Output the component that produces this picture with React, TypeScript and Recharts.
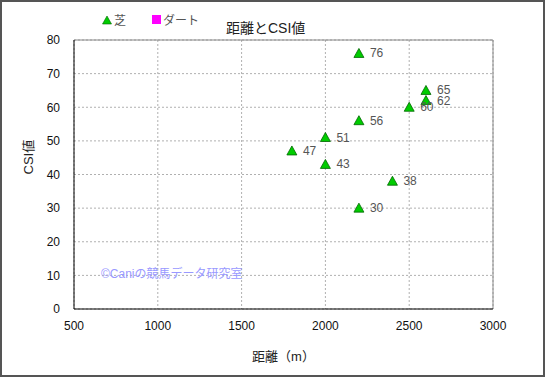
import { CartesianGrid, ReferenceLine, Scatter, ScatterChart, XAxis, YAxis } from 'recharts';

const turfDistance = [2200, 2600, 2600, 2500, 2200, 2000, 1800, 2000, 2400, 2200];
const turfCsi = [76, 65, 62, 60, 56, 51, 47, 43, 38, 30];
const dirtDistance: number[] = [];
const dirtCsi: number[] = [];
const xTicks = [500, 1000, 1500, 2000, 2500, 3000];
const yTicks = [0, 10, 20, 30, 40, 50, 60, 70, 80];

const turf = turfDistance.map((x, i) => ({ x, y: turfCsi[i] }));
const dirt = dirtDistance.map((x, i) => ({ x, y: dirtCsi[i] }));

const FONT = '"Liberation Sans", Arial, "Noto Sans CJK JP", sans-serif';

/** Green triangle marker with its CSI value written to the right. */
function Triangle(props: any) {
  const { cx, cy, payload } = props;
  if (cx == null || cy == null) return null;
  return (
    <g>
      <path
        d={`M${cx},${cy - 5} L${cx + 5},${cy + 4} L${cx - 5},${cy + 4} Z`}
        fill="#00cc00"
        stroke="#006600"
        strokeWidth={0.8}
      />
      <text x={cx + 11} y={cy + 4} fontSize={12} fill="#555" fontFamily={FONT}>
        {payload.y}
      </text>
    </g>
  );
}

function LegendBox() {
  return (
    <div style={{ position: 'absolute', left: 100, top: 9, display: 'flex', gap: 26, fontSize: 12, color: '#555', fontFamily: FONT }}>
      <span style={{ display: 'flex', alignItems: 'center' }}>
        <svg width={10} height={10}>
          <path d="M5,1 L9.5,9 L0.5,9 Z" fill="#00cc00" stroke="#006600" strokeWidth={0.6} />
        </svg>
        <span style={{ marginLeft: 2 }}>芝</span>
      </span>
      <span style={{ display: 'flex', alignItems: 'center' }}>
        <svg width={9} height={9}>
          <rect x={0} y={0} width={9} height={9} fill="#ff00ff" />
        </svg>
        <span style={{ marginLeft: 2 }}>ダート</span>
      </span>
    </div>
  );
}

export default function App() {
  return (
    <div
      style={{
        position: 'absolute',
        left: 0,
        top: 0,
        width: 545,
        height: 377,
        boxSizing: 'border-box',
        border: '2px solid #555',
        background: '#fff',
        fontFamily: FONT,
      }}
    >
      <div style={{ position: 'absolute', left: 224, top: 15, fontSize: 14, color: '#222' }}>距離とCSI値</div>
      <ScatterChart
        width={541}
        height={373}
        margin={{ top: 38, right: 50, bottom: 0, left: 0 }}
        style={{ position: 'absolute', left: 0, top: 0 }}
      >
        <CartesianGrid stroke="#b0b0b0" strokeDasharray="2 2" />
        <XAxis
          type="number"
          dataKey="x"
          domain={[500, 3000]}
          ticks={xTicks}
          tickLine={false}
          axisLine={{ stroke: '#000' }}
          tick={{ fontSize: 12, fill: '#111', fontFamily: FONT }}
          tickMargin={6}
          label={{ value: '距離（m）', position: 'insideBottom', offset: 14, fontSize: 13, fill: '#222' }}
          height={66}
        />
        <YAxis
          type="number"
          dataKey="y"
          domain={[0, 80]}
          ticks={yTicks}
          tickLine={false}
          axisLine={{ stroke: '#000' }}
          tick={{ fontSize: 12, fill: '#111', fontFamily: FONT }}
          tickMargin={8}
          width={72}
          label={{ value: 'CSI値', angle: -90, position: 'insideLeft', offset: 26, fontSize: 13, fill: '#222' }}
        />
        <ReferenceLine y={80} stroke="#888" />
        <ReferenceLine x={3000} stroke="#888" />
        <Scatter name="芝" data={turf} shape={<Triangle />} isAnimationActive={false} />
        <Scatter name="ダート" data={dirt} fill="#ff00ff" shape="square" isAnimationActive={false} />
      </ScatterChart>
      <LegendBox />
      <div style={{ position: 'absolute', left: 99, top: 262, fontSize: 12, color: '#9999ff' }}>©Caniの競馬データ研究室</div>
    </div>
  );
}
